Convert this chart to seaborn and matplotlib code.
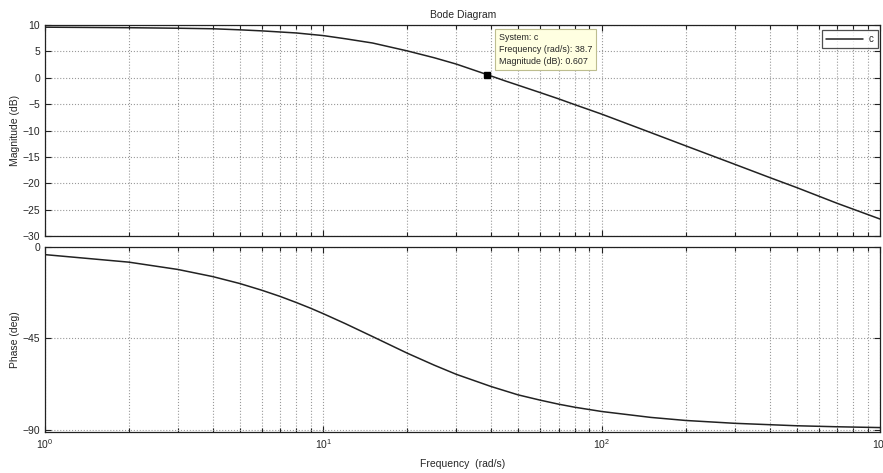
import numpy as np
import pandas as pd
import matplotlib
matplotlib.use("Agg")
import matplotlib.pyplot as plt
from matplotlib.ticker import LogLocator, NullFormatter, FixedLocator
import seaborn as sns

# values
mag_freq = [1, 2, 3, 4, 5, 6, 8, 10, 12, 15, 20, 25, 30, 38.7, 45, 50, 60, 70, 80,
            100, 150, 200, 300, 400, 500, 700, 1000]
mag_db = [9.6, 9.5, 9.4, 9.3, 9.1, 8.9, 8.5, 8.0, 7.4, 6.6, 5.1, 3.8, 2.6, 0.607,
          -0.6, -1.4, -2.8, -4.0, -5.1, -6.9, -10.4, -12.9, -16.4, -18.9, -20.8,
          -23.8, -26.8]

phase_freq = [1, 2, 3, 4, 5, 6, 7, 8, 9, 10, 12, 15, 20, 25, 30, 40, 50, 60, 70,
              80, 100, 150, 200, 300, 500, 700, 1000]
phase_deg = [-3.8, -7.5, -11.1, -14.6, -18.0, -21.3, -24.4, -27.4, -30.2, -32.9,
             -37.8, -44.1, -52.3, -58.2, -62.7, -68.7, -72.8, -75.4, -77.4, -78.9,
             -81.0, -83.9, -85.4, -86.8, -88.0, -88.5, -88.9]

mag_ticks = [10, 5, 0, -5, -10, -15, -20, -25, -30]
phase_ticks = [0, -45, -90]
x_ticks = [1, 10, 100, 1000]
x_labels = ["$10^{0}$", "$10^{1}$", "$10^{2}$", "$10^{3}$"]

tip_freq = 38.7
tip_mag = 0.607

sns.set_style("ticks")
plt.rcParams['font.family'] = ['Liberation Sans', 'DejaVu Sans']
plt.rcParams['mathtext.fontset'] = 'custom'
plt.rcParams['mathtext.rm'] = 'Liberation Sans'

df_mag = pd.DataFrame({"freq": mag_freq, "mag": mag_db})
df_ph = pd.DataFrame({"freq": phase_freq, "phase": phase_deg})

fig = plt.figure(figsize=(8.83, 4.73), dpi=100)
ax1 = fig.add_axes([0.051, 0.501, 0.946, 0.446])
ax2 = fig.add_axes([0.051, 0.087, 0.946, 0.391])

sns.lineplot(data=df_mag, x="freq", y="mag", ax=ax1, color="#222222", lw=1.1,
             label="c", legend=False)
sns.lineplot(data=df_ph, x="freq", y="phase", ax=ax2, color="#222222", lw=1.1)

for ax in (ax1, ax2):
    ax.set_xscale("log")
    ax.set_xlim(1, 1000)
    ax.xaxis.set_major_locator(FixedLocator(x_ticks))
    ax.xaxis.set_minor_locator(LogLocator(base=10, subs=np.arange(2, 10)))
    ax.xaxis.set_minor_formatter(NullFormatter())
    ax.tick_params(which="both", direction="in", top=True, right=True,
                   labelsize=7.5, color="#222222", width=0.8)
    ax.tick_params(which="major", length=4)
    ax.tick_params(which="minor", length=3)
    ax.grid(True, which="both", axis="x", ls=":", lw=0.8, color="#999999")
    ax.grid(True, which="major", axis="y", ls=":", lw=0.8, color="#999999")
    for s in ax.spines.values():
        s.set_color("#222222")
        s.set_linewidth(0.9)

ax1.set_ylim(-30, 10)
ax1.set_yticks(mag_ticks)
ax1.set_xticklabels([])
ax1.set_xlabel("")
ax1.set_ylabel("Magnitude (dB)", fontsize=7.5, labelpad=2)
ax1.set_title("Bode Diagram", fontsize=7.5, pad=5)

ax2.set_ylim(-91, 0)
ax2.set_yticks(phase_ticks)
ax2.set_xticks(x_ticks)
ax2.set_xticklabels(x_labels)
ax2.set_ylabel("Phase (deg)", fontsize=7.5, labelpad=2)
ax2.set_xlabel("Frequency  (rad/s)", fontsize=7.5, labelpad=6)

# data tip
ax1.plot([tip_freq], [tip_mag], marker="s", ms=5, color="black", ls="none")
ax1.text(0.543, 0.962,
         "System: c\nFrequency (rad/s): %.1f\nMagnitude (dB): %.3f" % (tip_freq, tip_mag),
         transform=ax1.transAxes, fontsize=6.4, va="top", ha="left", linespacing=1.45,
         bbox=dict(boxstyle="square,pad=0.45", facecolor="#FFFFE1", edgecolor="#BDBD8F",
                   lw=0.8))

leg = ax1.legend(loc="upper right", fontsize=7, frameon=True, fancybox=False,
                 handlelength=3.8, borderpad=0.4, handletextpad=0.6,
                 borderaxespad=0, bbox_to_anchor=(0.997, 0.976))
leg.get_frame().set_edgecolor("#222222")
leg.get_frame().set_linewidth(0.9)

fig.savefig("out.png", dpi=100, facecolor="white")
